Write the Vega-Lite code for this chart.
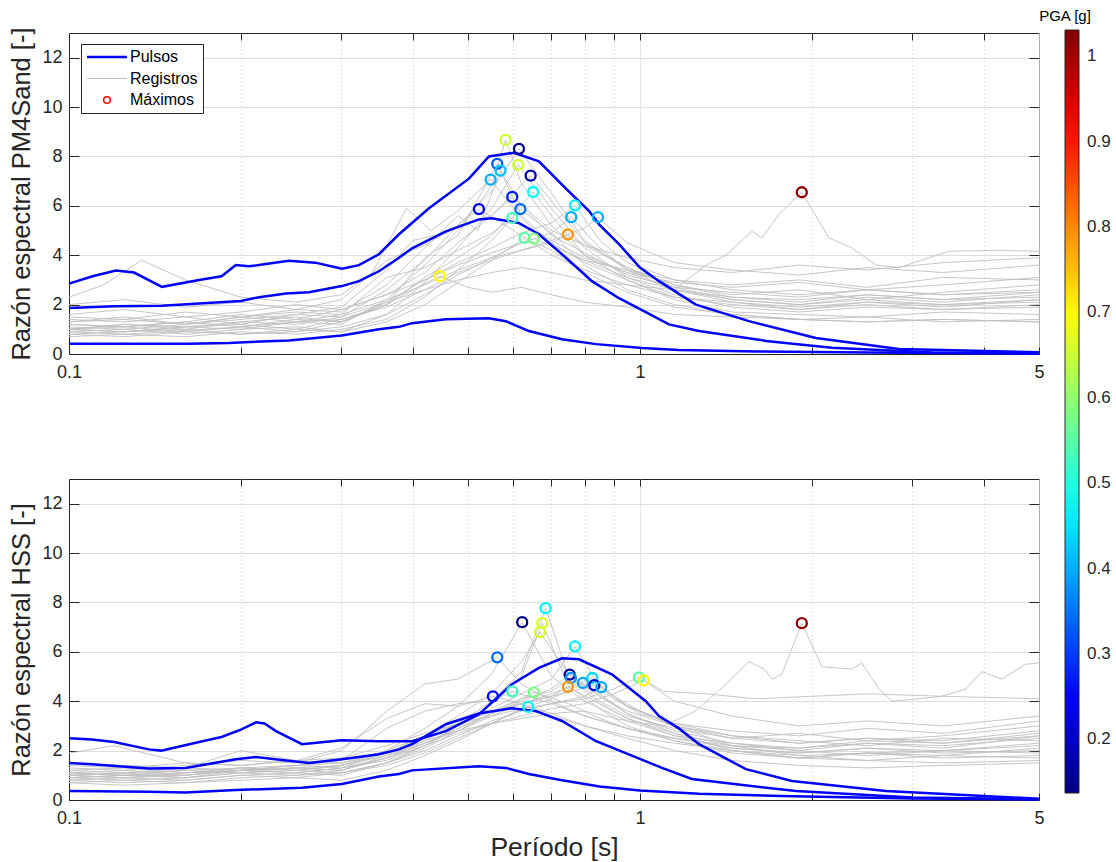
{
"$schema": "https://vega.github.io/schema/vega-lite/v6.json",
"background": "white",
"padding": {"left": 9, "top": 8, "right": 2, "bottom": 5},
"bounds": "flush",
"spacing": 125,
"config": {
  "font": "Liberation Sans",
  "view": {"stroke": "#262626", "strokeWidth": 1},
  "axis": {"labelFont": "Liberation Sans", "titleFont": "Liberation Sans", "labelColor": "#262626", "titleColor": "#262626", "titleFontWeight": "normal", "domainColor": "#262626", "tickColor": "#262626", "gridColor": "#dcdcdc", "gridWidth": 1}
},
"datasets": {
"regT": [
{"i":1,"x":0.1,"y":1.0},{"i":1,"x":0.125,"y":0.9},{"i":1,"x":0.16,"y":1.1},{"i":1,"x":0.2,"y":1.0},{"i":1,"x":0.25,"y":1.3},{"i":1,"x":0.3,"y":1.2},{"i":1,"x":0.36,"y":2.2},{"i":1,"x":0.42,"y":3.6},{"i":1,"x":0.48,"y":5.0},{"i":1,"x":0.55,"y":6.8},{"i":1,"x":0.5817,"y":8.67},{"i":1,"x":0.62,"y":6.9},{"i":1,"x":0.7,"y":5.2},{"i":1,"x":0.8,"y":4.0},{"i":1,"x":0.95,"y":3.3},{"i":1,"x":1.15,"y":2.6},{"i":1,"x":1.45,"y":2.2},{"i":1,"x":1.9,"y":2.0},{"i":1,"x":2.5,"y":2.3},{"i":1,"x":3.4,"y":2.1},{"i":1,"x":5.0,"y":2.4},
{"i":2,"x":0.1,"y":1.3},{"i":2,"x":0.125,"y":1.5},{"i":2,"x":0.16,"y":1.2},{"i":2,"x":0.2,"y":1.4},{"i":2,"x":0.25,"y":1.6},{"i":2,"x":0.3,"y":1.5},{"i":2,"x":0.36,"y":2.6},{"i":2,"x":0.42,"y":3.8},{"i":2,"x":0.48,"y":5.2},{"i":2,"x":0.55,"y":6.6},{"i":2,"x":0.614,"y":8.31},{"i":2,"x":0.7,"y":6.5},{"i":2,"x":0.8,"y":4.6},{"i":2,"x":0.95,"y":3.4},{"i":2,"x":1.15,"y":2.8},{"i":2,"x":1.45,"y":2.4},{"i":2,"x":1.9,"y":2.6},{"i":2,"x":2.5,"y":2.2},{"i":2,"x":3.4,"y":2.5},{"i":2,"x":5.0,"y":2.8},
{"i":3,"x":0.1,"y":0.9},{"i":3,"x":0.125,"y":0.8},{"i":3,"x":0.16,"y":0.95},{"i":3,"x":0.2,"y":1.1},{"i":3,"x":0.25,"y":0.9},{"i":3,"x":0.3,"y":1.3},{"i":3,"x":0.36,"y":2.0},{"i":3,"x":0.42,"y":3.9},{"i":3,"x":0.48,"y":4.8},{"i":3,"x":0.5625,"y":7.7},{"i":3,"x":0.62,"y":5.6},{"i":3,"x":0.7,"y":4.5},{"i":3,"x":0.8,"y":3.7},{"i":3,"x":0.95,"y":3.0},{"i":3,"x":1.15,"y":2.3},{"i":3,"x":1.45,"y":2.0},{"i":3,"x":1.9,"y":1.8},{"i":3,"x":2.5,"y":2.1},{"i":3,"x":3.4,"y":1.9},{"i":3,"x":5.0,"y":2.2},
{"i":4,"x":0.1,"y":1.5},{"i":4,"x":0.125,"y":1.4},{"i":4,"x":0.16,"y":1.7},{"i":4,"x":0.2,"y":1.5},{"i":4,"x":0.25,"y":1.8},{"i":4,"x":0.3,"y":1.7},{"i":4,"x":0.36,"y":2.8},{"i":4,"x":0.42,"y":4.3},{"i":4,"x":0.48,"y":5.6},{"i":4,"x":0.52,"y":5.0},{"i":4,"x":0.57,"y":7.43},{"i":4,"x":0.62,"y":6.0},{"i":4,"x":0.7,"y":4.8},{"i":4,"x":0.8,"y":4.1},{"i":4,"x":0.95,"y":3.2},{"i":4,"x":1.15,"y":2.7},{"i":4,"x":1.45,"y":2.5},{"i":4,"x":1.9,"y":2.3},{"i":4,"x":2.5,"y":2.6},{"i":4,"x":3.4,"y":2.4},{"i":4,"x":5.0,"y":2.6},
{"i":5,"x":0.1,"y":2.3},{"i":5,"x":0.115,"y":2.8},{"i":5,"x":0.134,"y":3.8},{"i":5,"x":0.16,"y":3.0},{"i":5,"x":0.2,"y":2.3},{"i":5,"x":0.25,"y":2.1},{"i":5,"x":0.3,"y":2.4},{"i":5,"x":0.34,"y":3.3},{"i":5,"x":0.39,"y":5.9},{"i":5,"x":0.43,"y":5.0},{"i":5,"x":0.48,"y":5.8},{"i":5,"x":0.5476,"y":7.06},{"i":5,"x":0.62,"y":5.5},{"i":5,"x":0.7,"y":4.4},{"i":5,"x":0.8,"y":3.8},{"i":5,"x":0.95,"y":3.4},{"i":5,"x":1.15,"y":3.0},{"i":5,"x":1.45,"y":2.8},{"i":5,"x":1.9,"y":3.0},{"i":5,"x":2.5,"y":2.7},{"i":5,"x":3.4,"y":3.1},{"i":5,"x":5.0,"y":3.0},
{"i":6,"x":0.1,"y":0.8},{"i":6,"x":0.125,"y":0.7},{"i":6,"x":0.16,"y":0.9},{"i":6,"x":0.2,"y":0.8},{"i":6,"x":0.25,"y":1.0},{"i":6,"x":0.3,"y":0.9},{"i":6,"x":0.36,"y":1.6},{"i":6,"x":0.42,"y":2.9},{"i":6,"x":0.48,"y":4.3},{"i":6,"x":0.55,"y":5.9},{"i":6,"x":0.612,"y":7.66},{"i":6,"x":0.7,"y":5.9},{"i":6,"x":0.8,"y":4.3},{"i":6,"x":0.95,"y":3.1},{"i":6,"x":1.15,"y":2.4},{"i":6,"x":1.45,"y":1.9},{"i":6,"x":1.9,"y":1.7},{"i":6,"x":2.5,"y":1.9},{"i":6,"x":3.4,"y":1.8},{"i":6,"x":5.0,"y":2.0},
{"i":7,"x":0.1,"y":1.2},{"i":7,"x":0.125,"y":1.1},{"i":7,"x":0.16,"y":1.3},{"i":7,"x":0.2,"y":1.6},{"i":7,"x":0.25,"y":1.4},{"i":7,"x":0.3,"y":1.8},{"i":7,"x":0.36,"y":2.4},{"i":7,"x":0.42,"y":3.3},{"i":7,"x":0.48,"y":4.5},{"i":7,"x":0.55,"y":5.6},{"i":7,"x":0.6435,"y":7.22},{"i":7,"x":0.7,"y":6.2},{"i":7,"x":0.8,"y":4.5},{"i":7,"x":0.95,"y":3.5},{"i":7,"x":1.15,"y":2.8},{"i":7,"x":1.45,"y":2.3},{"i":7,"x":1.9,"y":2.1},{"i":7,"x":2.5,"y":2.4},{"i":7,"x":3.4,"y":2.2},{"i":7,"x":5.0,"y":2.5},
{"i":8,"x":0.1,"y":1.0},{"i":8,"x":0.125,"y":1.2},{"i":8,"x":0.16,"y":1.0},{"i":8,"x":0.2,"y":1.3},{"i":8,"x":0.25,"y":1.5},{"i":8,"x":0.3,"y":1.3},{"i":8,"x":0.36,"y":2.0},{"i":8,"x":0.42,"y":3.1},{"i":8,"x":0.48,"y":3.9},{"i":8,"x":0.55,"y":4.8},{"i":8,"x":0.65,"y":6.56},{"i":8,"x":0.7,"y":5.6},{"i":8,"x":0.8,"y":4.0},{"i":8,"x":0.95,"y":3.0},{"i":8,"x":1.15,"y":2.2},{"i":8,"x":1.45,"y":1.7},{"i":8,"x":1.9,"y":1.6},{"i":8,"x":2.5,"y":1.5},{"i":8,"x":3.4,"y":1.7},{"i":8,"x":5.0,"y":1.6},
{"i":9,"x":0.1,"y":2.0},{"i":9,"x":0.125,"y":2.2},{"i":9,"x":0.16,"y":1.9},{"i":9,"x":0.2,"y":2.1},{"i":9,"x":0.25,"y":1.8},{"i":9,"x":0.3,"y":2.2},{"i":9,"x":0.36,"y":3.8},{"i":9,"x":0.42,"y":4.4},{"i":9,"x":0.48,"y":5.2},{"i":9,"x":0.55,"y":5.6},{"i":9,"x":0.5976,"y":6.36},{"i":9,"x":0.7,"y":5.0},{"i":9,"x":0.8,"y":4.4},{"i":9,"x":0.95,"y":3.9},{"i":9,"x":1.15,"y":3.5},{"i":9,"x":1.45,"y":3.3},{"i":9,"x":1.9,"y":3.6},{"i":9,"x":2.5,"y":3.4},{"i":9,"x":3.4,"y":3.7},{"i":9,"x":5.0,"y":3.9},
{"i":10,"x":0.1,"y":1.4},{"i":10,"x":0.125,"y":1.3},{"i":10,"x":0.16,"y":1.5},{"i":10,"x":0.2,"y":1.2},{"i":10,"x":0.25,"y":1.6},{"i":10,"x":0.3,"y":1.9},{"i":10,"x":0.36,"y":3.4},{"i":10,"x":0.4,"y":4.6},{"i":10,"x":0.46,"y":4.9},{"i":10,"x":0.5224,"y":5.87},{"i":10,"x":0.62,"y":4.8},{"i":10,"x":0.7,"y":4.0},{"i":10,"x":0.8,"y":3.4},{"i":10,"x":0.95,"y":2.8},{"i":10,"x":1.15,"y":2.3},{"i":10,"x":1.45,"y":2.1},{"i":10,"x":1.9,"y":1.9},{"i":10,"x":2.5,"y":2.1},{"i":10,"x":3.4,"y":2.0},{"i":10,"x":5.0,"y":2.2},
{"i":11,"x":0.1,"y":0.7},{"i":11,"x":0.125,"y":0.8},{"i":11,"x":0.16,"y":0.7},{"i":11,"x":0.2,"y":0.9},{"i":11,"x":0.25,"y":0.8},{"i":11,"x":0.3,"y":1.0},{"i":11,"x":0.36,"y":1.4},{"i":11,"x":0.42,"y":2.3},{"i":11,"x":0.48,"y":3.4},{"i":11,"x":0.55,"y":4.6},{"i":11,"x":0.6175,"y":5.87},{"i":11,"x":0.7,"y":4.9},{"i":11,"x":0.8,"y":3.6},{"i":11,"x":0.95,"y":2.6},{"i":11,"x":1.15,"y":2.0},{"i":11,"x":1.45,"y":1.6},{"i":11,"x":1.9,"y":1.4},{"i":11,"x":2.5,"y":1.5},{"i":11,"x":3.4,"y":1.3},{"i":11,"x":5.0,"y":1.4},
{"i":12,"x":0.1,"y":1.1},{"i":12,"x":0.125,"y":1.0},{"i":12,"x":0.16,"y":1.2},{"i":12,"x":0.2,"y":1.5},{"i":12,"x":0.25,"y":1.3},{"i":12,"x":0.3,"y":1.6},{"i":12,"x":0.36,"y":3.1},{"i":12,"x":0.42,"y":3.5},{"i":12,"x":0.48,"y":4.2},{"i":12,"x":0.55,"y":4.9},{"i":12,"x":0.5976,"y":5.51},{"i":12,"x":0.7,"y":4.6},{"i":12,"x":0.8,"y":3.9},{"i":12,"x":0.95,"y":3.3},{"i":12,"x":1.15,"y":2.9},{"i":12,"x":1.45,"y":2.7},{"i":12,"x":1.9,"y":2.9},{"i":12,"x":2.5,"y":2.6},{"i":12,"x":3.4,"y":2.8},{"i":12,"x":5.0,"y":3.1},
{"i":13,"x":0.1,"y":0.9},{"i":13,"x":0.125,"y":1.0},{"i":13,"x":0.16,"y":0.8},{"i":13,"x":0.2,"y":1.0},{"i":13,"x":0.25,"y":1.1},{"i":13,"x":0.3,"y":0.9},{"i":13,"x":0.36,"y":1.3},{"i":13,"x":0.42,"y":2.0},{"i":13,"x":0.48,"y":2.9},{"i":13,"x":0.55,"y":3.8},{"i":13,"x":0.628,"y":4.7},{"i":13,"x":0.7,"y":4.2},{"i":13,"x":0.8,"y":3.3},{"i":13,"x":0.95,"y":2.5},{"i":13,"x":1.15,"y":1.9},{"i":13,"x":1.45,"y":1.6},{"i":13,"x":1.9,"y":1.4},{"i":13,"x":2.5,"y":1.3},{"i":13,"x":3.4,"y":1.4},{"i":13,"x":5.0,"y":1.3},
{"i":14,"x":0.1,"y":1.6},{"i":14,"x":0.125,"y":1.8},{"i":14,"x":0.16,"y":1.5},{"i":14,"x":0.2,"y":1.7},{"i":14,"x":0.25,"y":2.0},{"i":14,"x":0.3,"y":1.8},{"i":14,"x":0.36,"y":2.4},{"i":14,"x":0.42,"y":3.0},{"i":14,"x":0.48,"y":3.6},{"i":14,"x":0.55,"y":4.1},{"i":14,"x":0.652,"y":4.67},{"i":14,"x":0.7,"y":4.4},{"i":14,"x":0.8,"y":3.8},{"i":14,"x":0.95,"y":3.1},{"i":14,"x":1.15,"y":2.6},{"i":14,"x":1.45,"y":2.3},{"i":14,"x":1.9,"y":2.2},{"i":14,"x":2.5,"y":2.4},{"i":14,"x":3.4,"y":2.2},{"i":14,"x":5.0,"y":2.3},
{"i":15,"x":0.1,"y":1.2},{"i":15,"x":0.125,"y":1.1},{"i":15,"x":0.16,"y":1.3},{"i":15,"x":0.2,"y":1.1},{"i":15,"x":0.25,"y":1.4},{"i":15,"x":0.3,"y":1.3},{"i":15,"x":0.36,"y":2.1},{"i":15,"x":0.42,"y":3.0},{"i":15,"x":0.48,"y":3.7},{"i":15,"x":0.55,"y":4.3},{"i":15,"x":0.62,"y":4.9},{"i":15,"x":0.7,"y":5.3},{"i":15,"x":0.7696,"y":6.02},{"i":15,"x":0.85,"y":4.6},{"i":15,"x":0.95,"y":3.7},{"i":15,"x":1.15,"y":3.0},{"i":15,"x":1.45,"y":2.6},{"i":15,"x":1.9,"y":2.4},{"i":15,"x":2.5,"y":2.6},{"i":15,"x":3.4,"y":2.4},{"i":15,"x":5.0,"y":2.5},
{"i":16,"x":0.1,"y":0.8},{"i":16,"x":0.125,"y":0.9},{"i":16,"x":0.16,"y":1.0},{"i":16,"x":0.2,"y":0.8},{"i":16,"x":0.25,"y":0.9},{"i":16,"x":0.3,"y":1.1},{"i":16,"x":0.36,"y":1.6},{"i":16,"x":0.42,"y":2.4},{"i":16,"x":0.48,"y":3.2},{"i":16,"x":0.55,"y":3.9},{"i":16,"x":0.62,"y":4.5},{"i":16,"x":0.7,"y":4.9},{"i":16,"x":0.758,"y":5.54},{"i":16,"x":0.85,"y":4.3},{"i":16,"x":0.95,"y":3.4},{"i":16,"x":1.15,"y":2.6},{"i":16,"x":1.45,"y":2.1},{"i":16,"x":1.9,"y":1.8},{"i":16,"x":2.5,"y":2.0},{"i":16,"x":3.4,"y":1.8},{"i":16,"x":5.0,"y":1.9},
{"i":17,"x":0.1,"y":1.3},{"i":17,"x":0.125,"y":1.4},{"i":17,"x":0.16,"y":1.2},{"i":17,"x":0.2,"y":1.5},{"i":17,"x":0.25,"y":1.7},{"i":17,"x":0.3,"y":1.6},{"i":17,"x":0.36,"y":2.2},{"i":17,"x":0.42,"y":2.8},{"i":17,"x":0.48,"y":3.4},{"i":17,"x":0.55,"y":3.9},{"i":17,"x":0.62,"y":4.2},{"i":17,"x":0.7,"y":4.6},{"i":17,"x":0.8,"y":5.1},{"i":17,"x":0.8444,"y":5.54},{"i":17,"x":0.95,"y":4.5},{"i":17,"x":1.15,"y":3.7},{"i":17,"x":1.45,"y":3.4},{"i":17,"x":1.9,"y":3.2},{"i":17,"x":2.5,"y":3.5},{"i":17,"x":3.4,"y":3.3},{"i":17,"x":5.0,"y":3.6},
{"i":18,"x":0.1,"y":1.0},{"i":18,"x":0.125,"y":0.9},{"i":18,"x":0.16,"y":1.1},{"i":18,"x":0.2,"y":1.2},{"i":18,"x":0.25,"y":1.0},{"i":18,"x":0.3,"y":1.4},{"i":18,"x":0.36,"y":1.9},{"i":18,"x":0.42,"y":2.6},{"i":18,"x":0.48,"y":3.3},{"i":18,"x":0.55,"y":3.8},{"i":18,"x":0.62,"y":4.2},{"i":18,"x":0.7,"y":4.5},{"i":18,"x":0.7479,"y":4.84},{"i":18,"x":0.8,"y":4.4},{"i":18,"x":0.95,"y":3.5},{"i":18,"x":1.15,"y":2.7},{"i":18,"x":1.45,"y":2.2},{"i":18,"x":1.9,"y":2.0},{"i":18,"x":2.5,"y":2.2},{"i":18,"x":3.4,"y":2.0},{"i":18,"x":5.0,"y":2.1},
{"i":19,"x":0.1,"y":1.0},{"i":19,"x":0.125,"y":1.1},{"i":19,"x":0.16,"y":0.9},{"i":19,"x":0.2,"y":1.1},{"i":19,"x":0.25,"y":1.3},{"i":19,"x":0.3,"y":1.4},{"i":19,"x":0.36,"y":2.0},{"i":19,"x":0.4,"y":2.6},{"i":19,"x":0.4464,"y":3.15},{"i":19,"x":0.5,"y":2.7},{"i":19,"x":0.55,"y":2.5},{"i":19,"x":0.62,"y":2.7},{"i":19,"x":0.7,"y":2.4},{"i":19,"x":0.8,"y":2.1},{"i":19,"x":0.95,"y":1.9},{"i":19,"x":1.15,"y":1.6},{"i":19,"x":1.45,"y":1.5},{"i":19,"x":1.9,"y":1.4},{"i":19,"x":2.5,"y":1.3},{"i":19,"x":3.4,"y":1.4},{"i":19,"x":5.0,"y":1.3},
{"i":20,"x":0.1,"y":1.0},{"i":20,"x":0.125,"y":1.2},{"i":20,"x":0.16,"y":1.1},{"i":20,"x":0.2,"y":1.3},{"i":20,"x":0.25,"y":1.2},{"i":20,"x":0.3,"y":1.5},{"i":20,"x":0.36,"y":2.1},{"i":20,"x":0.42,"y":2.6},{"i":20,"x":0.48,"y":3.0},{"i":20,"x":0.55,"y":3.3},{"i":20,"x":0.62,"y":3.5},{"i":20,"x":0.7,"y":3.3},{"i":20,"x":0.8,"y":3.0},{"i":20,"x":0.95,"y":2.8},{"i":20,"x":1.15,"y":2.6},{"i":20,"x":1.305,"y":3.6},{"i":20,"x":1.415,"y":4.0},{"i":20,"x":1.571,"y":4.97},{"i":20,"x":1.636,"y":4.7},{"i":20,"x":1.751,"y":5.65},{"i":20,"x":1.921,"y":6.55},{"i":20,"x":2.143,"y":4.7},{"i":20,"x":2.351,"y":4.3},{"i":20,"x":2.59,"y":3.6},{"i":20,"x":2.842,"y":3.5},{"i":20,"x":3.477,"y":4.16},{"i":20,"x":4.253,"y":4.2},{"i":20,"x":5.0,"y":4.16}
],
"regB": [
{"i":1,"x":0.1,"y":0.9},{"i":1,"x":0.125,"y":0.8},{"i":1,"x":0.16,"y":0.9},{"i":1,"x":0.2,"y":1.1},{"i":1,"x":0.25,"y":1.0},{"i":1,"x":0.3,"y":1.2},{"i":1,"x":0.36,"y":1.7},{"i":1,"x":0.42,"y":2.4},{"i":1,"x":0.48,"y":3.1},{"i":1,"x":0.55,"y":4.0},{"i":1,"x":0.62,"y":5.2},{"i":1,"x":0.6836,"y":7.77},{"i":1,"x":0.75,"y":5.0},{"i":1,"x":0.85,"y":3.9},{"i":1,"x":0.95,"y":3.3},{"i":1,"x":1.15,"y":2.7},{"i":1,"x":1.45,"y":2.2},{"i":1,"x":1.9,"y":2.0},{"i":1,"x":2.5,"y":2.3},{"i":1,"x":3.4,"y":2.1},{"i":1,"x":5.0,"y":2.6},
{"i":2,"x":0.1,"y":1.1},{"i":2,"x":0.125,"y":1.0},{"i":2,"x":0.16,"y":1.2},{"i":2,"x":0.2,"y":1.3},{"i":2,"x":0.25,"y":1.2},{"i":2,"x":0.3,"y":1.4},{"i":2,"x":0.36,"y":2.0},{"i":2,"x":0.42,"y":2.9},{"i":2,"x":0.48,"y":3.8},{"i":2,"x":0.55,"y":5.1},{"i":2,"x":0.622,"y":7.2},{"i":2,"x":0.7,"y":5.0},{"i":2,"x":0.8,"y":4.0},{"i":2,"x":0.95,"y":3.2},{"i":2,"x":1.15,"y":2.6},{"i":2,"x":1.45,"y":2.3},{"i":2,"x":1.9,"y":2.1},{"i":2,"x":2.5,"y":2.4},{"i":2,"x":3.4,"y":2.3},{"i":2,"x":5.0,"y":2.7},
{"i":3,"x":0.1,"y":0.8},{"i":3,"x":0.125,"y":0.9},{"i":3,"x":0.16,"y":0.8},{"i":3,"x":0.2,"y":1.0},{"i":3,"x":0.25,"y":1.1},{"i":3,"x":0.3,"y":1.0},{"i":3,"x":0.36,"y":1.5},{"i":3,"x":0.42,"y":2.2},{"i":3,"x":0.48,"y":3.0},{"i":3,"x":0.55,"y":3.9},{"i":3,"x":0.62,"y":5.0},{"i":3,"x":0.6744,"y":7.16},{"i":3,"x":0.75,"y":4.6},{"i":3,"x":0.85,"y":3.7},{"i":3,"x":0.95,"y":3.0},{"i":3,"x":1.15,"y":2.4},{"i":3,"x":1.45,"y":1.9},{"i":3,"x":1.9,"y":1.7},{"i":3,"x":2.5,"y":1.9},{"i":3,"x":3.4,"y":2.0},{"i":3,"x":5.0,"y":2.2},
{"i":4,"x":0.1,"y":1.2},{"i":4,"x":0.125,"y":1.3},{"i":4,"x":0.16,"y":1.1},{"i":4,"x":0.2,"y":1.2},{"i":4,"x":0.25,"y":1.4},{"i":4,"x":0.3,"y":1.3},{"i":4,"x":0.36,"y":1.9},{"i":4,"x":0.42,"y":2.6},{"i":4,"x":0.48,"y":3.4},{"i":4,"x":0.55,"y":4.3},{"i":4,"x":0.62,"y":5.6},{"i":4,"x":0.668,"y":6.8},{"i":4,"x":0.75,"y":5.1},{"i":4,"x":0.85,"y":4.0},{"i":4,"x":0.95,"y":3.4},{"i":4,"x":1.15,"y":2.9},{"i":4,"x":1.45,"y":2.5},{"i":4,"x":1.9,"y":2.3},{"i":4,"x":2.5,"y":2.5},{"i":4,"x":3.4,"y":2.4},{"i":4,"x":5.0,"y":2.8},
{"i":5,"x":0.1,"y":1.0},{"i":5,"x":0.125,"y":1.1},{"i":5,"x":0.16,"y":0.9},{"i":5,"x":0.2,"y":1.2},{"i":5,"x":0.25,"y":1.3},{"i":5,"x":0.3,"y":1.2},{"i":5,"x":0.36,"y":1.8},{"i":5,"x":0.42,"y":2.5},{"i":5,"x":0.48,"y":3.1},{"i":5,"x":0.55,"y":3.7},{"i":5,"x":0.62,"y":4.3},{"i":5,"x":0.7,"y":4.9},{"i":5,"x":0.7696,"y":6.22},{"i":5,"x":0.85,"y":4.6},{"i":5,"x":0.95,"y":3.8},{"i":5,"x":1.15,"y":3.1},{"i":5,"x":1.45,"y":2.6},{"i":5,"x":1.9,"y":2.4},{"i":5,"x":2.5,"y":2.2},{"i":5,"x":3.4,"y":2.5},{"i":5,"x":5.0,"y":2.4},
{"i":6,"x":0.1,"y":1.3},{"i":6,"x":0.125,"y":1.2},{"i":6,"x":0.16,"y":1.4},{"i":6,"x":0.2,"y":1.6},{"i":6,"x":0.25,"y":1.5},{"i":6,"x":0.3,"y":2.0},{"i":6,"x":0.33,"y":2.8},{"i":6,"x":0.36,"y":3.6},{"i":6,"x":0.42,"y":4.7},{"i":6,"x":0.48,"y":4.9},{"i":6,"x":0.5625,"y":5.78},{"i":6,"x":0.62,"y":4.7},{"i":6,"x":0.7,"y":4.0},{"i":6,"x":0.8,"y":3.4},{"i":6,"x":0.95,"y":2.9},{"i":6,"x":1.15,"y":2.5},{"i":6,"x":1.45,"y":2.1},{"i":6,"x":1.9,"y":1.9},{"i":6,"x":2.5,"y":2.1},{"i":6,"x":3.4,"y":2.0},{"i":6,"x":5.0,"y":2.3},
{"i":7,"x":0.1,"y":0.9},{"i":7,"x":0.125,"y":1.0},{"i":7,"x":0.16,"y":1.0},{"i":7,"x":0.2,"y":1.2},{"i":7,"x":0.25,"y":1.1},{"i":7,"x":0.3,"y":1.3},{"i":7,"x":0.36,"y":1.6},{"i":7,"x":0.42,"y":2.2},{"i":7,"x":0.48,"y":2.9},{"i":7,"x":0.55,"y":3.5},{"i":7,"x":0.62,"y":4.0},{"i":7,"x":0.7,"y":4.5},{"i":7,"x":0.7534,"y":5.08},{"i":7,"x":0.85,"y":4.2},{"i":7,"x":0.95,"y":3.5},{"i":7,"x":1.15,"y":2.8},{"i":7,"x":1.45,"y":2.3},{"i":7,"x":1.9,"y":2.0},{"i":7,"x":2.5,"y":1.8},{"i":7,"x":3.4,"y":2.0},{"i":7,"x":5.0,"y":1.9},
{"i":8,"x":0.1,"y":1.1},{"i":8,"x":0.125,"y":1.0},{"i":8,"x":0.16,"y":1.1},{"i":8,"x":0.2,"y":1.3},{"i":8,"x":0.25,"y":1.4},{"i":8,"x":0.3,"y":1.5},{"i":8,"x":0.36,"y":1.9},{"i":8,"x":0.42,"y":2.5},{"i":8,"x":0.48,"y":3.0},{"i":8,"x":0.55,"y":3.6},{"i":8,"x":0.62,"y":4.1},{"i":8,"x":0.7,"y":4.4},{"i":8,"x":0.757,"y":4.94},{"i":8,"x":0.85,"y":4.2},{"i":8,"x":0.95,"y":3.6},{"i":8,"x":1.15,"y":3.0},{"i":8,"x":1.45,"y":2.5},{"i":8,"x":1.9,"y":2.7},{"i":8,"x":2.5,"y":2.4},{"i":8,"x":3.4,"y":2.6},{"i":8,"x":5.0,"y":3.0},
{"i":9,"x":0.1,"y":0.7},{"i":9,"x":0.125,"y":0.8},{"i":9,"x":0.16,"y":0.7},{"i":9,"x":0.2,"y":0.9},{"i":9,"x":0.25,"y":1.0},{"i":9,"x":0.3,"y":1.1},{"i":9,"x":0.36,"y":1.4},{"i":9,"x":0.42,"y":1.9},{"i":9,"x":0.48,"y":2.5},{"i":9,"x":0.55,"y":3.1},{"i":9,"x":0.62,"y":3.7},{"i":9,"x":0.7,"y":4.1},{"i":9,"x":0.7946,"y":4.74},{"i":9,"x":0.85,"y":4.3},{"i":9,"x":0.95,"y":3.5},{"i":9,"x":1.15,"y":2.7},{"i":9,"x":1.45,"y":2.0},{"i":9,"x":1.9,"y":1.7},{"i":9,"x":2.5,"y":1.6},{"i":9,"x":3.4,"y":1.8},{"i":9,"x":5.0,"y":1.7},
{"i":10,"x":0.1,"y":1.0},{"i":10,"x":0.125,"y":0.9},{"i":10,"x":0.16,"y":1.1},{"i":10,"x":0.2,"y":1.2},{"i":10,"x":0.25,"y":1.3},{"i":10,"x":0.3,"y":1.4},{"i":10,"x":0.36,"y":1.8},{"i":10,"x":0.42,"y":2.3},{"i":10,"x":0.48,"y":2.9},{"i":10,"x":0.55,"y":3.5},{"i":10,"x":0.62,"y":3.9},{"i":10,"x":0.7,"y":4.3},{"i":10,"x":0.8253,"y":4.94},{"i":10,"x":0.9,"y":4.2},{"i":10,"x":1.0,"y":3.6},{"i":10,"x":1.15,"y":3.0},{"i":10,"x":1.45,"y":2.6},{"i":10,"x":1.9,"y":2.3},{"i":10,"x":2.5,"y":2.5},{"i":10,"x":3.4,"y":2.3},{"i":10,"x":5.0,"y":2.6},
{"i":11,"x":0.1,"y":1.5},{"i":11,"x":0.125,"y":1.4},{"i":11,"x":0.16,"y":1.3},{"i":11,"x":0.2,"y":2.0},{"i":11,"x":0.25,"y":1.6},{"i":11,"x":0.3,"y":1.5},{"i":11,"x":0.36,"y":2.0},{"i":11,"x":0.42,"y":2.6},{"i":11,"x":0.48,"y":3.1},{"i":11,"x":0.55,"y":3.6},{"i":11,"x":0.62,"y":3.9},{"i":11,"x":0.7,"y":4.2},{"i":11,"x":0.832,"y":4.65},{"i":11,"x":0.9,"y":4.1},{"i":11,"x":1.0,"y":3.5},{"i":11,"x":1.15,"y":3.1},{"i":11,"x":1.45,"y":2.8},{"i":11,"x":1.9,"y":2.6},{"i":11,"x":2.5,"y":2.9},{"i":11,"x":3.4,"y":2.7},{"i":11,"x":5.0,"y":3.2},
{"i":12,"x":0.1,"y":0.8},{"i":12,"x":0.125,"y":0.7},{"i":12,"x":0.16,"y":0.8},{"i":12,"x":0.2,"y":1.0},{"i":12,"x":0.25,"y":0.9},{"i":12,"x":0.3,"y":1.1},{"i":12,"x":0.36,"y":1.5},{"i":12,"x":0.42,"y":2.0},{"i":12,"x":0.48,"y":2.6},{"i":12,"x":0.55,"y":3.2},{"i":12,"x":0.62,"y":3.6},{"i":12,"x":0.7,"y":3.9},{"i":12,"x":0.8,"y":4.2},{"i":12,"x":0.8556,"y":4.57},{"i":12,"x":0.95,"y":3.8},{"i":12,"x":1.15,"y":3.0},{"i":12,"x":1.45,"y":2.2},{"i":12,"x":1.9,"y":1.8},{"i":12,"x":2.5,"y":1.6},{"i":12,"x":3.4,"y":1.5},{"i":12,"x":5.0,"y":1.6},
{"i":13,"x":0.1,"y":1.0},{"i":13,"x":0.125,"y":1.1},{"i":13,"x":0.16,"y":1.2},{"i":13,"x":0.2,"y":1.1},{"i":13,"x":0.25,"y":1.3},{"i":13,"x":0.3,"y":1.2},{"i":13,"x":0.36,"y":1.7},{"i":13,"x":0.42,"y":2.3},{"i":13,"x":0.48,"y":2.8},{"i":13,"x":0.55,"y":3.4},{"i":13,"x":0.62,"y":3.9},{"i":13,"x":0.7,"y":4.2},{"i":13,"x":0.7479,"y":4.58},{"i":13,"x":0.85,"y":3.9},{"i":13,"x":0.95,"y":3.3},{"i":13,"x":1.15,"y":2.6},{"i":13,"x":1.45,"y":2.1},{"i":13,"x":1.9,"y":1.9},{"i":13,"x":2.5,"y":2.1},{"i":13,"x":3.4,"y":1.9},{"i":13,"x":5.0,"y":2.0},
{"i":14,"x":0.1,"y":1.9},{"i":14,"x":0.12,"y":2.2},{"i":14,"x":0.16,"y":1.5},{"i":14,"x":0.2,"y":1.4},{"i":14,"x":0.25,"y":1.6},{"i":14,"x":0.3,"y":2.1},{"i":14,"x":0.36,"y":3.3},{"i":14,"x":0.42,"y":3.9},{"i":14,"x":0.48,"y":3.8},{"i":14,"x":0.5527,"y":4.2},{"i":14,"x":0.62,"y":3.9},{"i":14,"x":0.7,"y":3.4},{"i":14,"x":0.8,"y":3.0},{"i":14,"x":0.95,"y":2.6},{"i":14,"x":1.15,"y":2.3},{"i":14,"x":1.45,"y":2.0},{"i":14,"x":1.9,"y":1.8},{"i":14,"x":2.5,"y":1.9},{"i":14,"x":3.4,"y":1.7},{"i":14,"x":5.0,"y":1.8},
{"i":15,"x":0.1,"y":1.2},{"i":15,"x":0.125,"y":1.1},{"i":15,"x":0.16,"y":1.3},{"i":15,"x":0.2,"y":1.2},{"i":15,"x":0.25,"y":1.4},{"i":15,"x":0.3,"y":1.6},{"i":15,"x":0.36,"y":2.9},{"i":15,"x":0.42,"y":3.6},{"i":15,"x":0.48,"y":3.9},{"i":15,"x":0.55,"y":4.0},{"i":15,"x":0.5976,"y":4.4},{"i":15,"x":0.7,"y":3.9},{"i":15,"x":0.8,"y":3.4},{"i":15,"x":0.95,"y":2.9},{"i":15,"x":1.15,"y":2.5},{"i":15,"x":1.45,"y":2.2},{"i":15,"x":1.9,"y":2.1},{"i":15,"x":2.5,"y":2.3},{"i":15,"x":3.4,"y":2.2},{"i":15,"x":5.0,"y":2.5},
{"i":16,"x":0.1,"y":0.9},{"i":16,"x":0.125,"y":1.0},{"i":16,"x":0.16,"y":0.9},{"i":16,"x":0.2,"y":1.1},{"i":16,"x":0.25,"y":1.2},{"i":16,"x":0.3,"y":1.1},{"i":16,"x":0.36,"y":1.5},{"i":16,"x":0.42,"y":2.1},{"i":16,"x":0.48,"y":2.8},{"i":16,"x":0.55,"y":3.5},{"i":16,"x":0.652,"y":4.36},{"i":16,"x":0.75,"y":3.9},{"i":16,"x":0.85,"y":3.3},{"i":16,"x":0.95,"y":2.9},{"i":16,"x":1.15,"y":2.4},{"i":16,"x":1.45,"y":2.0},{"i":16,"x":1.9,"y":1.7},{"i":16,"x":2.5,"y":1.9},{"i":16,"x":3.4,"y":1.8},{"i":16,"x":5.0,"y":2.1},
{"i":17,"x":0.1,"y":0.7},{"i":17,"x":0.125,"y":0.6},{"i":17,"x":0.16,"y":0.7},{"i":17,"x":0.2,"y":0.8},{"i":17,"x":0.25,"y":0.9},{"i":17,"x":0.3,"y":0.8},{"i":17,"x":0.36,"y":1.2},{"i":17,"x":0.42,"y":1.8},{"i":17,"x":0.48,"y":2.4},{"i":17,"x":0.55,"y":3.1},{"i":17,"x":0.6373,"y":3.77},{"i":17,"x":0.7,"y":3.5},{"i":17,"x":0.8,"y":3.0},{"i":17,"x":0.95,"y":2.5},{"i":17,"x":1.15,"y":2.0},{"i":17,"x":1.45,"y":1.6},{"i":17,"x":1.9,"y":1.4},{"i":17,"x":2.5,"y":1.3},{"i":17,"x":3.4,"y":1.4},{"i":17,"x":5.0,"y":1.5},
{"i":18,"x":0.1,"y":1.4},{"i":18,"x":0.125,"y":1.3},{"i":18,"x":0.16,"y":1.5},{"i":18,"x":0.2,"y":1.4},{"i":18,"x":0.25,"y":1.6},{"i":18,"x":0.3,"y":1.7},{"i":18,"x":0.36,"y":2.2},{"i":18,"x":0.42,"y":2.7},{"i":18,"x":0.48,"y":3.1},{"i":18,"x":0.55,"y":3.4},{"i":18,"x":0.62,"y":3.7},{"i":18,"x":0.7,"y":3.9},{"i":18,"x":0.8,"y":4.1},{"i":18,"x":0.9,"y":4.5},{"i":18,"x":0.996,"y":4.97},{"i":18,"x":1.1,"y":4.4},{"i":18,"x":1.3,"y":4.3},{"i":18,"x":1.6,"y":4.1},{"i":18,"x":2.0,"y":4.2},{"i":18,"x":2.5,"y":4.3},{"i":18,"x":3.4,"y":4.2},{"i":18,"x":5.0,"y":4.1},
{"i":19,"x":0.1,"y":1.0},{"i":19,"x":0.125,"y":0.9},{"i":19,"x":0.16,"y":1.0},{"i":19,"x":0.2,"y":1.2},{"i":19,"x":0.25,"y":1.1},{"i":19,"x":0.3,"y":1.3},{"i":19,"x":0.36,"y":1.7},{"i":19,"x":0.42,"y":2.2},{"i":19,"x":0.48,"y":2.7},{"i":19,"x":0.55,"y":3.1},{"i":19,"x":0.62,"y":3.4},{"i":19,"x":0.7,"y":3.7},{"i":19,"x":0.8,"y":3.9},{"i":19,"x":0.9,"y":4.3},{"i":19,"x":1.016,"y":4.84},{"i":19,"x":1.15,"y":4.0},{"i":19,"x":1.45,"y":3.4},{"i":19,"x":1.9,"y":3.0},{"i":19,"x":2.5,"y":3.2},{"i":19,"x":3.4,"y":3.0},{"i":19,"x":5.0,"y":3.4},
{"i":20,"x":0.1,"y":1.1},{"i":20,"x":0.125,"y":1.2},{"i":20,"x":0.16,"y":1.0},{"i":20,"x":0.2,"y":1.3},{"i":20,"x":0.25,"y":1.2},{"i":20,"x":0.3,"y":1.4},{"i":20,"x":0.36,"y":1.9},{"i":20,"x":0.42,"y":2.4},{"i":20,"x":0.48,"y":2.8},{"i":20,"x":0.55,"y":3.1},{"i":20,"x":0.62,"y":3.3},{"i":20,"x":0.7,"y":3.5},{"i":20,"x":0.8,"y":3.6},{"i":20,"x":0.95,"y":3.2},{"i":20,"x":1.1,"y":3.0},{"i":20,"x":1.25,"y":3.6},{"i":20,"x":1.4,"y":4.6},{"i":20,"x":1.552,"y":5.6},{"i":20,"x":1.65,"y":5.3},{"i":20,"x":1.703,"y":4.9},{"i":20,"x":1.773,"y":5.1},{"i":20,"x":1.921,"y":7.16},{"i":20,"x":2.083,"y":5.4},{"i":20,"x":2.351,"y":5.3},{"i":20,"x":2.447,"y":5.55},{"i":20,"x":2.622,"y":4.5},{"i":20,"x":2.763,"y":4.0},{"i":20,"x":3.081,"y":4.1},{"i":20,"x":3.38,"y":4.2},{"i":20,"x":3.723,"y":4.5},{"i":20,"x":3.972,"y":5.2},{"i":20,"x":4.305,"y":4.9},{"i":20,"x":4.742,"y":5.5},{"i":20,"x":5.0,"y":5.55}
],
"pulT": [
{"i":1,"x":0.1,"y":2.85},{"i":1,"x":0.11,"y":3.15},{"i":1,"x":0.1208,"y":3.38},{"i":1,"x":0.13,"y":3.3},{"i":1,"x":0.1455,"y":2.72},{"i":1,"x":0.169,"y":3.0},{"i":1,"x":0.185,"y":3.15},{"i":1,"x":0.196,"y":3.6},{"i":1,"x":0.2066,"y":3.55},{"i":1,"x":0.215,"y":3.6},{"i":1,"x":0.2428,"y":3.78},{"i":1,"x":0.27,"y":3.7},{"i":1,"x":0.3006,"y":3.45},{"i":1,"x":0.322,"y":3.6},{"i":1,"x":0.349,"y":4.04},{"i":1,"x":0.3785,"y":4.85},{"i":1,"x":0.4271,"y":5.9},{"i":1,"x":0.5017,"y":7.1},{"i":1,"x":0.5439,"y":8.0},{"i":1,"x":0.6015,"y":8.15},{"i":1,"x":0.6653,"y":7.8},{"i":1,"x":0.742,"y":6.7},{"i":1,"x":0.814,"y":5.8},{"i":1,"x":0.848,"y":5.25},{"i":1,"x":0.919,"y":4.45},{"i":1,"x":1.0,"y":3.5},{"i":1,"x":1.08,"y":2.95},{"i":1,"x":1.253,"y":2.0},{"i":1,"x":1.552,"y":1.33},{"i":1,"x":2.033,"y":0.65},{"i":1,"x":2.842,"y":0.2},{"i":1,"x":5.0,"y":0.07},
{"i":2,"x":0.1,"y":1.86},{"i":2,"x":0.12,"y":1.93},{"i":2,"x":0.1455,"y":1.95},{"i":2,"x":0.169,"y":2.05},{"i":2,"x":0.2,"y":2.15},{"i":2,"x":0.2152,"y":2.3},{"i":2,"x":0.24,"y":2.45},{"i":2,"x":0.2632,"y":2.5},{"i":2,"x":0.3006,"y":2.75},{"i":2,"x":0.322,"y":2.95},{"i":2,"x":0.349,"y":3.35},{"i":2,"x":0.3785,"y":3.9},{"i":2,"x":0.3989,"y":4.28},{"i":2,"x":0.4573,"y":4.97},{"i":2,"x":0.5224,"y":5.45},{"i":2,"x":0.5505,"y":5.5},{"i":2,"x":0.614,"y":5.3},{"i":2,"x":0.6653,"y":4.85},{"i":2,"x":0.742,"y":3.9},{"i":2,"x":0.824,"y":2.95},{"i":2,"x":0.919,"y":2.26},{"i":2,"x":1.024,"y":1.7},{"i":2,"x":1.124,"y":1.2},{"i":2,"x":1.269,"y":0.93},{"i":2,"x":1.663,"y":0.53},{"i":2,"x":2.169,"y":0.25},{"i":2,"x":3.246,"y":0.06},{"i":2,"x":5.0,"y":0.02},
{"i":3,"x":0.1,"y":0.42},{"i":3,"x":0.1622,"y":0.42},{"i":3,"x":0.1906,"y":0.45},{"i":3,"x":0.2428,"y":0.55},{"i":3,"x":0.3006,"y":0.75},{"i":3,"x":0.349,"y":1.0},{"i":3,"x":0.3785,"y":1.1},{"i":3,"x":0.3989,"y":1.25},{"i":3,"x":0.4573,"y":1.41},{"i":3,"x":0.5439,"y":1.45},{"i":3,"x":0.5824,"y":1.33},{"i":3,"x":0.639,"y":0.93},{"i":3,"x":0.7302,"y":0.6},{"i":3,"x":0.838,"y":0.4},{"i":3,"x":1.008,"y":0.24},{"i":3,"x":1.17,"y":0.16},{"i":3,"x":1.6,"y":0.1},{"i":3,"x":2.5,"y":0.06},{"i":3,"x":5.0,"y":0.02}
],
"pulB": [
{"i":1,"x":0.1,"y":2.5},{"i":1,"x":0.1097,"y":2.45},{"i":1,"x":0.12,"y":2.35},{"i":1,"x":0.138,"y":2.05},{"i":1,"x":0.145,"y":2.0},{"i":1,"x":0.169,"y":2.35},{"i":1,"x":0.185,"y":2.55},{"i":1,"x":0.2,"y":2.85},{"i":1,"x":0.2127,"y":3.15},{"i":1,"x":0.22,"y":3.1},{"i":1,"x":0.2304,"y":2.79},{"i":1,"x":0.2559,"y":2.26},{"i":1,"x":0.28,"y":2.35},{"i":1,"x":0.3006,"y":2.42},{"i":1,"x":0.349,"y":2.38},{"i":1,"x":0.3989,"y":2.38},{"i":1,"x":0.4573,"y":2.79},{"i":1,"x":0.5224,"y":3.47},{"i":1,"x":0.5967,"y":4.69},{"i":1,"x":0.6653,"y":5.35},{"i":1,"x":0.7302,"y":5.74},{"i":1,"x":0.782,"y":5.7},{"i":1,"x":0.893,"y":5.09},{"i":1,"x":1.024,"y":4.0},{"i":1,"x":1.08,"y":3.4},{"i":1,"x":1.17,"y":2.9},{"i":1,"x":1.269,"y":2.26},{"i":1,"x":1.533,"y":1.25},{"i":1,"x":1.846,"y":0.77},{"i":1,"x":2.697,"y":0.36},{"i":1,"x":5.0,"y":0.05},
{"i":2,"x":0.1,"y":1.5},{"i":2,"x":0.1097,"y":1.45},{"i":2,"x":0.138,"y":1.28},{"i":2,"x":0.16,"y":1.3},{"i":2,"x":0.196,"y":1.65},{"i":2,"x":0.2127,"y":1.74},{"i":2,"x":0.24,"y":1.6},{"i":2,"x":0.2632,"y":1.5},{"i":2,"x":0.3006,"y":1.65},{"i":2,"x":0.349,"y":1.85},{"i":2,"x":0.3785,"y":2.05},{"i":2,"x":0.3989,"y":2.26},{"i":2,"x":0.4573,"y":3.07},{"i":2,"x":0.5224,"y":3.5},{"i":2,"x":0.5967,"y":3.72},{"i":2,"x":0.6574,"y":3.6},{"i":2,"x":0.7302,"y":3.2},{"i":2,"x":0.838,"y":2.38},{"i":2,"x":0.956,"y":1.85},{"i":2,"x":1.093,"y":1.3},{"i":2,"x":1.233,"y":0.85},{"i":2,"x":1.876,"y":0.36},{"i":2,"x":3.0,"y":0.1},{"i":2,"x":5.0,"y":0.03},
{"i":3,"x":0.1,"y":0.36},{"i":3,"x":0.138,"y":0.33},{"i":3,"x":0.16,"y":0.3},{"i":3,"x":0.196,"y":0.4},{"i":3,"x":0.2559,"y":0.5},{"i":3,"x":0.3006,"y":0.65},{"i":3,"x":0.349,"y":0.95},{"i":3,"x":0.3785,"y":1.05},{"i":3,"x":0.3989,"y":1.2},{"i":3,"x":0.5224,"y":1.37},{"i":3,"x":0.5824,"y":1.3},{"i":3,"x":0.639,"y":1.05},{"i":3,"x":0.7302,"y":0.8},{"i":3,"x":0.85,"y":0.55},{"i":3,"x":1.0,"y":0.38},{"i":3,"x":1.27,"y":0.25},{"i":3,"x":1.85,"y":0.15},{"i":3,"x":3.0,"y":0.06},{"i":3,"x":5.0,"y":0.03}
],
"maxT": [
{"x":0.5817,"y":8.67,"pga":0.65},{"x":0.614,"y":8.31,"pga":0.15},{"x":0.5625,"y":7.7,"pga":0.33},{"x":0.57,"y":7.43,"pga":0.42},{"x":0.5476,"y":7.06,"pga":0.4},{"x":0.612,"y":7.66,"pga":0.65},{"x":0.6435,"y":7.22,"pga":0.18},{"x":0.65,"y":6.56,"pga":0.47},{"x":0.5976,"y":6.36,"pga":0.27},{"x":0.5224,"y":5.87,"pga":0.24},{"x":0.6175,"y":5.87,"pga":0.34},{"x":0.5976,"y":5.51,"pga":0.53},{"x":0.628,"y":4.7,"pga":0.55},{"x":0.652,"y":4.67,"pga":0.58},{"x":0.7696,"y":6.02,"pga":0.46},{"x":0.758,"y":5.54,"pga":0.4},{"x":0.8444,"y":5.54,"pga":0.4},{"x":0.7479,"y":4.84,"pga":0.79},{"x":0.4464,"y":3.15,"pga":0.7},{"x":1.921,"y":6.55,"pga":1.02}
],
"maxB": [
{"x":0.6836,"y":7.77,"pga":0.46},{"x":0.622,"y":7.2,"pga":0.15},{"x":0.6744,"y":7.16,"pga":0.66},{"x":0.668,"y":6.8,"pga":0.66},{"x":0.7696,"y":6.22,"pga":0.46},{"x":0.5625,"y":5.78,"pga":0.34},{"x":0.7534,"y":5.08,"pga":0.16},{"x":0.757,"y":4.94,"pga":0.38},{"x":0.7946,"y":4.74,"pga":0.39},{"x":0.8253,"y":4.94,"pga":0.44},{"x":0.832,"y":4.65,"pga":0.22},{"x":0.8556,"y":4.57,"pga":0.4},{"x":0.7479,"y":4.58,"pga":0.79},{"x":0.5527,"y":4.2,"pga":0.26},{"x":0.5976,"y":4.4,"pga":0.53},{"x":0.652,"y":4.36,"pga":0.58},{"x":0.6373,"y":3.77,"pga":0.47},{"x":0.996,"y":4.97,"pga":0.55},{"x":1.016,"y":4.84,"pga":0.7},{"x":1.921,"y":7.16,"pga":1.02}
]
},
"resolve": {"scale": {"color": "shared", "stroke": "shared", "x": "shared", "y": "shared"}, "legend": {"color": "independent", "stroke": "independent"}},
"vconcat": [
{
 "width": 970, "height": 321,
 "resolve": {"axis": {"x": "independent", "y": "independent"}},
 "layer": [
  {"data": {"name": "regT"}, "mark": {"type": "line", "strokeWidth": 0.9},
   "encoding": {
    "x": {"field": "x", "type": "quantitative", "scale": {"type": "log", "domain": [0.1, 5], "nice": false},
          "axis": {"orient": "bottom", "title": null, "values": [0.1,0.2,0.3,0.4,0.5,0.6,0.7,0.8,0.9,1,2,3,4,5], "labelExpr": "datum.value==0.1 ? '0.1' : datum.value==1 ? '1' : datum.value==5 ? '5' : ''", "labelFontSize": 18, "labelFlush": false, "labelOverlap": false, "labelBound": false, "tickSize": -7, "labelPadding": 16, "gridDash": {"condition": {"test": "datum.value==0.1 || datum.value==1 || datum.value==5", "value": [1,0]}, "value": [1,3]}, "gridColor": {"condition": {"test": "datum.value==0.1 || datum.value==1 || datum.value==5", "value": "#dcdcdc"}, "value": "#c8c8c8"}}},
    "y": {"field": "y", "type": "quantitative", "scale": {"domain": [0, 13], "nice": false},
          "axis": {"orient": "left", "title": "Razón espectral PM4Sand [-]", "titleFontSize": 25.5, "titlePadding": 7, "values": [0,2,4,6,8,10,12], "labelFontSize": 18, "tickSize": -10, "labelPadding": 17}},
    "detail": {"field": "i"},
    "stroke": {"datum": "Registros", "type": "nominal", "scale": {"domain": ["Pulsos", "Registros", "Máximos"], "range": ["#0000FF", "#BFBFBF", "#FF0000"]},
      "legend": {"orient": "none", "legendX": 12, "legendY": 11, "title": null, "strokeColor": "#262626", "fillColor": "white", "padding": 5, "labelFontSize": 16, "labelColor": "#000000", "symbolType": "stroke", "symbolSize": 1600, "rowPadding": 5.5, "labelOffset": 7, "symbolStrokeWidth": 2,
        "encode": {
          "symbols": {"update": {"x": {"value": 21}, "shape": {"signal": "datum.label === 'Máximos' ? 'circle' : 'stroke'"}, "size": {"signal": "datum.label === 'Máximos' ? 45 : 1600"}, "strokeWidth": {"signal": "datum.label === 'Pulsos' ? 2.5 : datum.label === 'Registros' ? 1 : 1.5"}}},
          "labels": {"update": {"x": {"value": 44}}}}}}
   }},
  {"data": {"name": "pulT"}, "mark": {"type": "line", "strokeWidth": 2.5},
   "encoding": {
    "x": {"field": "x", "type": "quantitative", "axis": {"orient": "top", "values": [0.2,0.3,0.4,0.5,0.6,0.7,0.8,0.9,1,2,3,4], "labels": false, "title": null, "grid": false, "tickSize": -7, "domain": false}},
    "y": {"field": "y", "type": "quantitative", "axis": {"orient": "right", "values": [2,4,6,8,10,12], "labels": false, "title": null, "grid": false, "tickSize": -10, "domain": false}},
    "detail": {"field": "i"}, "stroke": {"datum": "Pulsos", "type": "nominal"}}},
  {"data": {"name": "maxT"}, "mark": {"type": "point", "filled": false, "strokeWidth": 2.3, "size": 100, "opacity": 1},
   "encoding": {"x": {"field": "x", "type": "quantitative", "axis": null}, "y": {"field": "y", "type": "quantitative", "axis": null},
    "color": {"field": "pga", "type": "quantitative", "scale": {"domain": [0.137,0.24875,0.3605,0.47225,0.584,0.69575,0.8075,0.91925,1.031], "range": ["#000080","#0000FF","#0080FF","#00FFFF","#80FF80","#FFFF00","#FF8000","#FF0000","#800000"], "interpolate": "rgb"},
      "legend": {"orient": "none", "legendX": 970, "legendY": -24, "direction": "vertical", "gradientLength": 763, "gradientThickness": 14, "title": "PGA [g]", "titleFontSize": 15, "titleFontWeight": "normal", "titleColor": "#000000", "titlePadding": 6, "titleAnchor": "start", "titleAlign": "center", "values": [0.2,0.3,0.4,0.5,0.6,0.7,0.8,0.9,1], "format": "~g", "labelFontSize": 17, "labelColor": "#262626", "labelOffset": 8, "labelOverlap": false, "gradientStrokeColor": "#262626", "gradientStrokeWidth": 1, "padding": 0}}}}
 ]
},
{
 "width": 970, "height": 321,
 "resolve": {"axis": {"x": "independent", "y": "independent"}},
 "layer": [
  {"data": {"name": "regB"}, "mark": {"type": "line", "strokeWidth": 0.9},
   "encoding": {
    "x": {"field": "x", "type": "quantitative", "scale": {"type": "log", "domain": [0.1, 5], "nice": false},
          "axis": {"orient": "bottom", "title": "Período [s]", "titleFontSize": 26.5, "titlePadding": 7, "values": [0.1,0.2,0.3,0.4,0.5,0.6,0.7,0.8,0.9,1,2,3,4,5], "labelExpr": "datum.value==0.1 ? '0.1' : datum.value==1 ? '1' : datum.value==5 ? '5' : ''", "labelFontSize": 18, "labelFlush": false, "labelOverlap": false, "labelBound": false, "tickSize": -7, "labelPadding": 16, "gridDash": {"condition": {"test": "datum.value==0.1 || datum.value==1 || datum.value==5", "value": [1,0]}, "value": [1,3]}, "gridColor": {"condition": {"test": "datum.value==0.1 || datum.value==1 || datum.value==5", "value": "#dcdcdc"}, "value": "#c8c8c8"}}},
    "y": {"field": "y", "type": "quantitative", "scale": {"domain": [0, 13], "nice": false},
          "axis": {"orient": "left", "title": "Razón espectral HSS [-]", "titleFontSize": 25.5, "titlePadding": 7, "values": [0,2,4,6,8,10,12], "labelFontSize": 18, "tickSize": -10, "labelPadding": 17}},
    "detail": {"field": "i"},
    "stroke": {"datum": "Registros", "type": "nominal", "legend": null}
   }},
  {"data": {"name": "pulB"}, "mark": {"type": "line", "strokeWidth": 2.5},
   "encoding": {
    "x": {"field": "x", "type": "quantitative", "axis": {"orient": "top", "values": [0.2,0.3,0.4,0.5,0.6,0.7,0.8,0.9,1,2,3,4], "labels": false, "title": null, "grid": false, "tickSize": -7, "domain": false}},
    "y": {"field": "y", "type": "quantitative", "axis": {"orient": "right", "values": [2,4,6,8,10,12], "labels": false, "title": null, "grid": false, "tickSize": -10, "domain": false}},
    "detail": {"field": "i"}, "stroke": {"datum": "Pulsos", "type": "nominal", "legend": null}}},
  {"data": {"name": "maxB"}, "mark": {"type": "point", "filled": false, "strokeWidth": 2.3, "size": 100, "opacity": 1},
   "encoding": {"x": {"field": "x", "type": "quantitative", "axis": null}, "y": {"field": "y", "type": "quantitative", "axis": null},
    "color": {"field": "pga", "type": "quantitative", "legend": null}}}
 ]
}
]
}
